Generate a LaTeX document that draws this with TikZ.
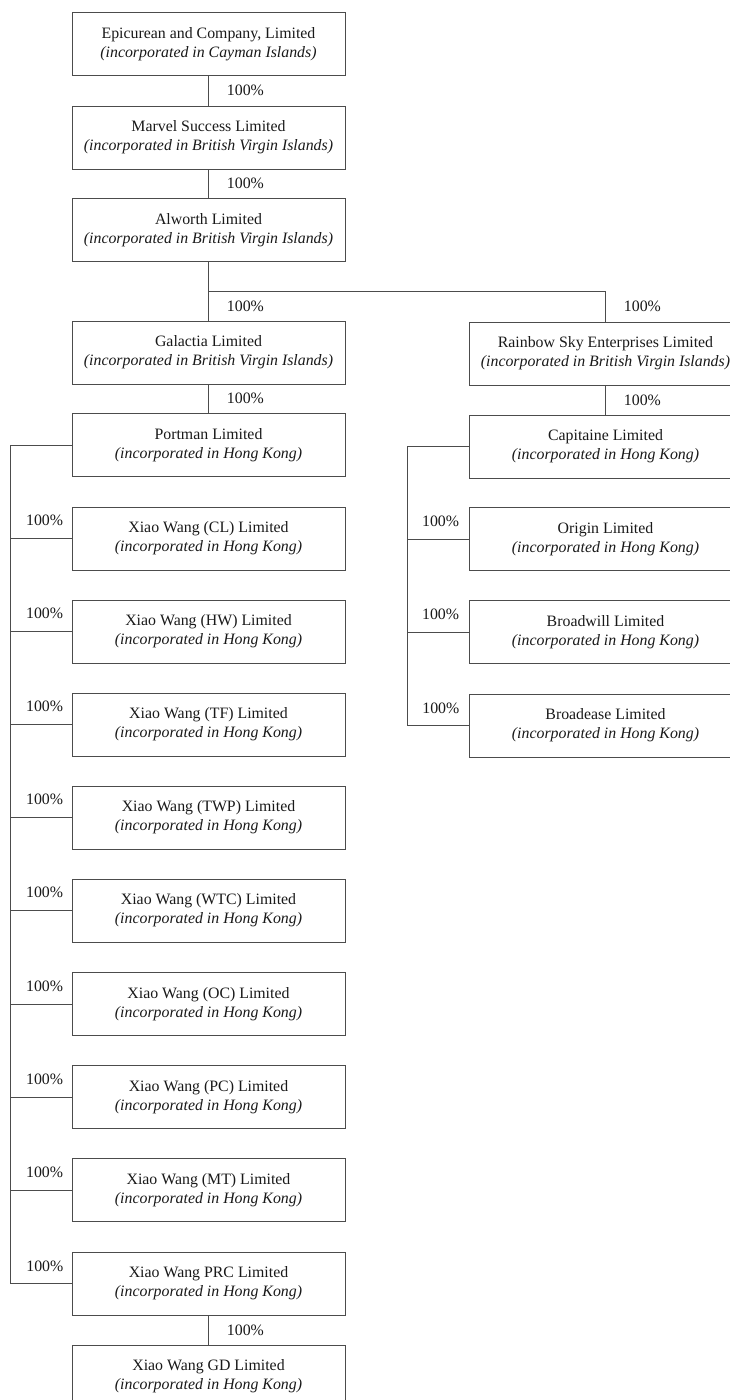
\documentclass[tikz,border=0pt]{standalone}
\usepackage{fontspec}
\setmainfont{Liberation Serif}
\begin{document}
\begin{tikzpicture}[x=1pt,y=1pt,yscale=-1,
	company/.style={draw=black!70, line width=0.9pt, minimum width=273pt, minimum height=63pt, inner sep=0pt, align=center, font=\fontsize{15.85}{18.7}\selectfont, text=black!90},
	share/.style={inner sep=0pt, font=\fontsize{15.85}{18.7}\selectfont, text=black!90},
	link/.style={draw=black!70, line width=0.9pt}]
	\useasboundingbox (0,0) rectangle (729,1400);

	%Shape: Rectangle (holding chain)
	\node[company] (epicurean) at (208.5,44) {Epicurean and Company, Limited\\\textit{(incorporated in Cayman Islands)}};
	\node[company] (marvel) at (208.5,137.5) {Marvel Success Limited\\\textit{(incorporated in British Virgin Islands)}};
	\node[company] (alworth) at (208.5,230) {Alworth Limited\\\textit{(incorporated in British Virgin Islands)}};
	\node[company] (galactia) at (208.5,352.5) {Galactia Limited\\\textit{(incorporated in British Virgin Islands)}};
	\node[company] (rainbow) at (605.5,353.5) {Rainbow Sky Enterprises Limited\\\textit{(incorporated in British Virgin Islands)}};
	\node[company] (portman) at (208.5,445) {Portman Limited\\\textit{(incorporated in Hong Kong)}};
	\node[company] (capitaine) at (605.5,446.5) {Capitaine Limited\\\textit{(incorporated in Hong Kong)}};

	%Shape: Rectangle (Portman subsidiaries)
	\node[company] (cl) at (208.5,538.5) {Xiao Wang (CL) Limited\\\textit{(incorporated in Hong Kong)}};
	\node[company] (hw) at (208.5,631.5) {Xiao Wang (HW) Limited\\\textit{(incorporated in Hong Kong)}};
	\node[company] (tf) at (208.5,724.5) {Xiao Wang (TF) Limited\\\textit{(incorporated in Hong Kong)}};
	\node[company] (twp) at (208.5,817.5) {Xiao Wang (TWP) Limited\\\textit{(incorporated in Hong Kong)}};
	\node[company] (wtc) at (208.5,910.5) {Xiao Wang (WTC) Limited\\\textit{(incorporated in Hong Kong)}};
	\node[company] (oc) at (208.5,1004) {Xiao Wang (OC) Limited\\\textit{(incorporated in Hong Kong)}};
	\node[company] (pc) at (208.5,1097) {Xiao Wang (PC) Limited\\\textit{(incorporated in Hong Kong)}};
	\node[company] (mt) at (208.5,1190) {Xiao Wang (MT) Limited\\\textit{(incorporated in Hong Kong)}};
	\node[company] (prc) at (208.5,1283.5) {Xiao Wang PRC Limited\\\textit{(incorporated in Hong Kong)}};
	\node[company] (gd) at (208.5,1376.5) {Xiao Wang GD Limited\\\textit{(incorporated in Hong Kong)}};

	%Shape: Rectangle (Capitaine subsidiaries)
	\node[company] (origin) at (605.5,539) {Origin Limited\\\textit{(incorporated in Hong Kong)}};
	\node[company] (broadwill) at (605.5,632) {Broadwill Limited\\\textit{(incorporated in Hong Kong)}};
	\node[company] (broadease) at (605.5,725.5) {Broadease Limited\\\textit{(incorporated in Hong Kong)}};

	%Straight Lines (vertical links)
	\draw[link] (epicurean) -- (marvel) node[share, midway, anchor=west, xshift=18pt] {100\%};
	\draw[link] (marvel) -- (alworth) node[share, midway, anchor=west, xshift=18pt] {100\%};
	\path (alworth.south) -- (galactia.north) coordinate[midway] (split);
	\draw[link] (alworth.south) -- (split);
	\draw[link] (split) -- (galactia.north) node[share, midway, anchor=west, xshift=18pt] {100\%};
	\draw[link] (split) -| (rainbow.north) node[share, pos=0.75, anchor=west, xshift=18pt] {100\%};
	\draw[link] (galactia) -- (portman) node[share, midway, anchor=west, xshift=18pt] {100\%};
	\draw[link] (rainbow) -- (capitaine) node[share, midway, anchor=west, xshift=18pt] {100\%};
	\draw[link] (prc) -- (gd) node[share, midway, anchor=west, xshift=18pt] {100\%};

	%Straight Lines (left trunk)
	\coordinate (ltrunk) at (10.5,0);
	\draw[link] (portman.west) -- (portman.west -| ltrunk) |- (prc.west);
	\foreach \sub in {cl,hw,tf,twp,wtc,oc,pc,mt}
		\draw[link] (\sub.west) -- (\sub.west -| ltrunk) node[share, pos=0, anchor=south east, xshift=-8pt, yshift=12pt] {100\%};
	\node[share, anchor=south east, xshift=-8pt, yshift=12pt] (prcshare) at (prc.west) {100\%};

	%Straight Lines (right trunk)
	\coordinate (rtrunk) at (407,0);
	\draw[link] (capitaine.west) -- (capitaine.west -| rtrunk) |- (broadease.west);
	\foreach \sub in {origin,broadwill}
		\draw[link] (\sub.west) -- (\sub.west -| rtrunk) node[share, pos=0, anchor=south east, xshift=-9pt, yshift=12pt] {100\%};
	\node[share, anchor=south east, xshift=-9pt, yshift=12pt] (broadeaseshare) at (broadease.west) {100\%};

\end{tikzpicture}
\end{document}
